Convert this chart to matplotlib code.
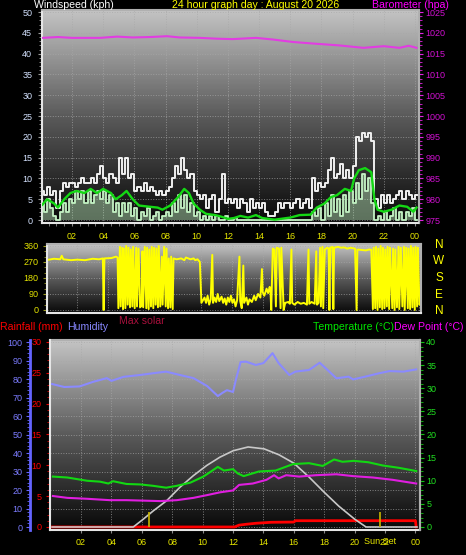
import matplotlib
matplotlib.use("Agg")
import matplotlib.pyplot as plt
import matplotlib.transforms as mtransforms
import numpy as np
from matplotlib.colors import LinearSegmentedColormap
from matplotlib.ticker import MultipleLocator

plt.rcParams["font.family"] = ["Liberation Sans Narrow", "Liberation Sans", "DejaVu Sans"]

W, H = 466, 555

# ---- wind (kph), sampled every 0.2 h starting 00:06 ----
wind_t = np.arange(121) * 0.2 + 0.1
gust = [
    7, 6, 8, 6, 7, 3, 7, 9, 8, 9,
    9, 8, 9, 10, 9, 9, 10, 9, 11, 13,
    10, 9, 11, 10, 9, 15, 11, 15, 10, 11,
    7, 8, 7, 9, 7, 8, 7, 6, 7, 6,
    7, 8, 10, 13, 11, 15, 12, 10, 11, 7,
    6, 5, 6, 3, 5, 6, 2, 5, 11, 4,
    5, 4, 5, 3, 5, 4, 2, 5, 3, 4,
    3, 4, 2, 1, 1, 2, 4, 3, 4, 4,
    3, 4, 5, 3, 4, 5, 3, 10, 7, 9,
    8, 9, 12, 15, 10, 11, 13.5, 10, 12, 10,
    13, 20, 19, 21, 20, 21, 19, 5, 3, 6,
    4, 6, 4, 5, 6, 7, 5, 7, 6, 5,
    6]
speed = [
    4, 2, 5, 3, 1, 0, 2, 4, 2, 5,
    4, 7, 5, 7, 4, 7, 4, 6, 7, 5,
    7, 4, 6, 2, 4, 1, 4, 2, 4, 1,
    3, 0, 2, 1, 3, 0, 1, 2, 0, 1,
    2, 1, 4, 2, 6, 3, 6, 2, 4, 1,
    2, 0, 1, 0, 1, 0, 1, 0, 0, 1,
    0, 0, 0.5, 0, 0, 0, 0, 0, 0, 0,
    0, 0, 0, 0, 0, 0, 0, 0, 0, 0,
    0, 0, 0, 0, 0, 0, 0, 2, 1, 3,
    0, 4, 1, 6, 2, 5, 1, 6, 2, 7,
    4, 9, 5, 11, 7, 10, 4, 0, 1, 0,
    2, 0, 1, 3, 0, 2, 0, 2, 1, 3,
    0]
avg_t = [0.1, 0.4, 0.85, 1.1, 1.5, 1.9, 2.3, 2.8, 3.2, 3.6, 4.0, 4.5, 4.8, 5.2, 5.5,
         5.9, 6.3, 7.0, 7.5, 7.8, 8.3, 8.8, 9.2, 9.5, 9.8, 10.2, 10.6, 11.2, 11.6,
         12.0, 12.4, 12.8, 13.3, 13.8, 14.2, 15.0, 16.0, 16.6, 17.3, 17.7, 18.2,
         18.6, 19.0, 19.5, 19.9, 20.1, 20.4, 20.8, 21.2, 21.4, 21.6, 22.0, 22.5,
         23.0, 23.5, 23.9, 24.1]
avg_v = [3.7, 5.0, 4.0, 3.0, 5.0, 6.5, 7.0, 6.5, 7.5, 6.5, 7.5, 6.5, 5.0, 6.0, 7.0,
         5.0, 3.5, 3.2, 3.0, 2.5, 3.5, 5.5, 7.5, 6.5, 4.0, 2.5, 1.5, 1.2, 0.8,
         0.3, 0.5, 1.0, 0.6, 1.2, 0.5, 0.1, 0.6, 1.2, 1.3, 3.0, 4.0,
         5.5, 6.0, 7.5, 7.0, 10.0, 12.0, 12.5, 11.5, 5.0, 2.5, 2.0, 2.5,
         3.5, 3.2, 2.0, 3.0]

# ---- barometer (hPa) ----
baro_t = [0.1, 1.1, 2.0, 3.8, 4.9, 5.9, 7.0, 8.1, 8.9, 10.2, 11.3, 12.3, 13.8, 14.9,
          16.2, 17.6, 19.1, 20.7, 22.0, 23.0, 23.6, 24.1]
baro_v = [1018.8, 1019.0, 1018.8, 1018.8, 1019.1, 1018.9, 1019.0, 1019.2, 1018.9,
          1018.8, 1018.6, 1018.5, 1018.8, 1018.4, 1017.8, 1017.4, 1017.0, 1016.4,
          1016.8, 1016.4, 1016.9, 1016.4]

# ---- wind direction (deg) ----
dir_t = [0.1, 0.5, 0.9, 1.0, 1.1, 1.6, 2.0, 2.5, 3.0, 3.4, 3.65, 3.7, 3.75, 4.2, 4.5, 4.6,
         4.65, 4.75, 4.8, 4.9, 4.95, 5.0, 5.1, 5.15, 5.25, 5.3, 5.4, 5.45, 5.55, 5.6,
         5.7, 5.8, 5.85, 5.95,
         6.05, 6.15, 6.2, 6.25, 6.35, 6.45, 6.5, 6.6, 6.65, 6.75, 6.8, 6.9, 6.95, 7.05,
         7.1, 7.2, 7.25,
         7.35, 7.45, 7.5, 7.6, 7.7, 7.75, 7.85, 7.9, 8.0, 8.05, 8.15, 8.2,
         8.4, 8.7, 8.9, 9.0, 9.3, 9.5, 9.6, 9.75, 9.9,
         10.0, 10.2, 10.3, 10.4, 10.5, 10.6, 10.7, 10.75, 10.85, 10.95, 11.05, 11.15,
         11.3, 11.4, 11.5, 11.6, 11.7, 11.8, 11.9, 12.0, 12.1, 12.2, 12.3, 12.45, 12.5,
         12.6, 12.7, 12.75, 12.9, 13.0, 13.1, 13.25, 13.4, 13.5, 13.65, 13.8, 13.9,
         13.95, 14.05, 14.2, 14.3, 14.4, 14.45,
         14.5, 14.6, 14.7, 14.8, 14.85, 15.0, 15.1, 15.15, 15.3, 15.4,
         15.6, 15.7, 15.8, 15.85, 16.0, 16.2, 16.4, 16.6, 16.8, 16.9, 16.95, 17.1, 17.3,
         17.4, 17.45, 17.55,
         17.65, 17.7, 17.8, 17.85, 17.95, 18.1, 18.2, 18.25, 18.3, 18.45, 18.5, 18.55,
         18.8, 19.0, 19.2, 19.4, 19.6, 19.9, 20.0, 20.05, 20.3, 20.6, 20.8, 20.95,
         21.05, 21.1, 21.2, 21.25, 21.35, 21.4, 21.5, 21.55, 21.65, 21.7, 21.8, 21.85,
         21.95, 22.0, 22.1, 22.15, 22.3, 22.35, 22.45, 22.5, 22.6, 22.7, 22.75, 22.85,
         22.95, 23.05, 23.1, 23.2, 23.3, 23.35, 23.45, 23.5, 23.6, 23.65, 23.75, 23.8,
         23.9, 23.95, 24.05, 24.1]
dir_v = [282, 288, 285, 305, 285, 280, 283, 280, 288, 285, 290, 0, 290, 292, 300, 295,
         10, 355, 20, 350, 5, 345, 10, 360, 30, 350, 15, 340, 20, 355,
         10, 350, 20, 345,
         15, 25, 330, 15, 355, 10, 350, 5, 340, 20, 355, 10, 350, 30,
         345, 15, 360,
         20, 300, 30, 355, 20, 345, 10, 290, 15, 300, 5, 290,
         285, 290, 280, 295, 285, 290, 280, 285, 270,
         40, 70, 40, 80, 30, 60, 310, 40, 70, 45, 90, 50,
         75, 40, 65, 30, 70, 45, 80, 40, 60, 20, 55, 300, 50,
         10, 250, 40, 70, 30, 60, 45, 80, 55, 90, 70, 230,
         100, 80, 120, 95, 130, 110,
         0, 345, 340, 20, 350, 345, 10, 350, 0, 40,
         45, 35, 340, 40, 30, 45, 35, 40, 30, 340, 35, 45, 35,
         330, 30, 40,
         350, 20, 355, 10, 340, 350, 345, 0, 350, 355, 5, 350,
         355, 350, 352, 345, 350, 345, 0, 340, 338, 335, 340, 338,
         5, 350, 10, 355, 0, 345, 15, 360, 5, 350, 10, 340,
         20, 355, 5, 350, 10, 345, 0, 340, 15, 355, 5, 350,
         20, 355, 0, 350, 10, 345, 5, 360, 15, 350, 0, 355,
         20, 350, 30, 40]

# ---- bottom panel ----
hum_t = [0.1, 0.9, 1.9, 2.8, 3.7, 4.0, 4.8, 5.9, 6.8, 7.6, 8.5, 9.4, 10.3, 11.0, 11.3,
         11.6, 12.0, 12.2, 12.5, 12.85, 13.5, 14.0, 14.6, 15.0, 15.7, 16.1, 17.0, 17.7,
         18.1, 18.8, 19.6, 19.9, 20.7, 21.6, 22.3, 23.2, 24.05]
hum_v = [77.3, 75.7, 76.0, 78.5, 80.5, 79.0, 81.2, 82.2, 83.2, 84.0, 82.2, 80.5, 76.2,
         70.8, 72.5, 74.0, 73.0, 80.0, 89.2, 89.4, 87.6, 88.6, 94.0, 88.6, 82.2, 84.0,
         84.9, 88.8, 85.8, 80.4, 81.3, 79.8, 81.3, 83.1, 84.3, 84.0, 85.2]
temp_t = [0.15, 1.1, 2.4, 3.25, 3.8, 4.1, 5.0, 5.9, 6.75, 7.6, 8.3, 9.2, 10.05, 11.0,
          11.4, 12.0, 12.3, 12.7, 13.7, 14.8, 15.95, 17.0, 17.9, 18.65, 19.2, 19.95,
          20.9, 21.85, 22.9, 24.05]
temp_v = [10.9, 10.7, 10.0, 9.8, 9.4, 9.9, 9.3, 9.2, 8.9, 8.5, 8.9, 9.6, 10.9, 13.0,
          12.2, 12.5, 11.6, 11.0, 12.0, 12.2, 13.6, 13.8, 13.2, 14.6, 14.1, 14.3,
          14.0, 13.3, 12.8, 12.1]
dew_t = [0.15, 1.1, 2.4, 3.9, 5.0, 6.1, 7.2, 8.3, 9.4, 10.3, 11.15, 12.0, 12.4, 13.3,
         14.2, 14.7, 15.0, 15.5, 16.35, 17.45, 18.8, 19.9, 21.2, 22.5, 24.05]
dew_v = [6.7, 6.3, 6.1, 5.8, 5.8, 5.7, 5.6, 5.8, 6.3, 6.9, 7.5, 7.9, 9.1, 9.4,
         10.2, 11.2, 10.5, 11.2, 10.9, 11.2, 11.4, 11.0, 10.7, 10.2, 9.4]
solar_t = [0.1, 5.44, 6.1, 6.76, 7.64, 8.51, 9.39, 10.27, 11.14, 12.02, 12.99, 14.04,
           15.03, 16.0, 17.0, 17.97, 18.96, 20.0, 20.75, 24.1]
solar_v = [0, 0, 1.7, 3.5, 5.7, 8.6, 11.1, 13.3, 15.1, 16.5, 17.3, 16.9,
           15.6, 13.8, 10.8, 7.6, 4.5, 1.7, 0, 0]
rain_t = [0.1, 12.1, 12.4, 12.9, 13.5, 14.5, 16.0, 16.1, 24.0, 24.05]
rain_v = [0, 0, 0.3, 0.45, 0.6, 0.76, 0.8, 1.02, 1.02, 0]
sunrise, sunset = 6.47, 21.7

hour_ticks = list(range(2, 25, 2))
hour_labels = ["02", "04", "06", "08", "10", "12", "14", "16", "18", "20", "22", "00"]

fig = plt.figure(figsize=(W / 100, H / 100), dpi=100, facecolor="black")
bg = LinearSegmentedColormap.from_list("bg", ["#080808", "#5a5a5a", "#c4c4c4"])
grad = np.linspace(1, 0, 256).reshape(-1, 1)


def panel(l, t, r, b):
    ax = fig.add_axes([l / W, 1 - b / H, (r - l) / W, (b - t) / H])
    ax.set_facecolor("black")
    ax.imshow(grad, cmap=bg, vmin=0, vmax=1, aspect="auto", extent=(0, 1, 0, 1),
              transform=ax.transAxes, zorder=0, interpolation="bilinear")
    for side, sp in ax.spines.items():
        sp.set_color("#e6e6e6" if side in ("left", "bottom") else "#b0b0b0")
        sp.set_linewidth(1.5)
    ax.grid(True, color="#a8a8a8", ls=":", lw=0.7, alpha=0.7)
    return ax


def hide_spines(ax, keep=()):
    for side, sp in ax.spines.items():
        sp.set_visible(side in keep)


def label(x, y, s, color, size=7.6, ha="left"):
    fig.text(x / W, 1 - y / H, s, color=color, fontsize=size, ha=ha, va="baseline",
             family="Liberation Sans")


# ---------------- top panel: wind + barometer ----------------
ax1 = panel(42, 10, 419, 223)
ax1.plot(wind_t, gust, drawstyle="steps-mid", color="#f0f0f0", lw=1.4, zorder=2)
ax1.fill_between(wind_t, 0, speed, step="mid", color="#c4f2c4", alpha=0.45, lw=0, zorder=3)
ax1.plot(wind_t, speed, drawstyle="steps-mid", color="#c4f2c4", lw=1.3, zorder=3)
ax1.plot(avg_t, avg_v, color="#14d814", lw=1.7, zorder=4)
ax1.set_xlim(0.077, 24.26)
ax1.set_ylim(-0.7, 50.5)
ax1.set_yticks(range(0, 51, 5))
ax1.yaxis.set_minor_locator(MultipleLocator(1))
ax1.set_xticks(hour_ticks)
ax1.set_xticklabels(hour_labels)
ax1.xaxis.set_minor_locator(MultipleLocator(0.5))
ax1.tick_params(axis="y", which="both", colors="#9a9a9a", labelcolor="#d4e2ff",
                labelsize=6.5, length=3, pad=4)
ax1.tick_params(axis="y", which="minor", length=2)
ax1.tick_params(axis="x", which="both", colors="#8a8a8a", labelcolor="#e8e800",
                labelsize=6.5, length=2, pad=4.5)

ax1b = ax1.twinx()
ax1b.plot(baro_t, baro_v, color="#e23ce2", lw=1.5)
ax1b.set_ylim(974.3, 1025.5)
ax1b.set_yticks(range(975, 1026, 5))
ax1b.yaxis.set_minor_locator(MultipleLocator(1))
ax1b.tick_params(axis="y", which="both", colors="#e020e0", labelcolor="#d010d0",
                 labelsize=6.5, length=3, pad=1.5)
ax1b.tick_params(axis="y", which="minor", length=2)
hide_spines(ax1b, keep=("right",))
ax1b.spines["right"].set_color("#b0b0b0")

label(34, 8.5, "Windspeed (kph)", "white")
label(172, 8.5, "24 hour graph day : August 20 2026", "#ffff00")
label(372, 8.5, "Barometer (hpa)", "#ff00ff")

# ---------------- direction panel ----------------
ax2 = panel(47, 244, 421, 313)
ax2.plot(dir_t, dir_v, color="#ffff00", lw=1.4, zorder=2)
ax2.set_xlim(0.05, 24.15)
ax2.set_ylim(-17, 371)
ax2.set_yticks([0, 90, 180, 270, 360])
ax2.yaxis.set_minor_locator(MultipleLocator(30))
ax2.set_xticks(hour_ticks)
ax2.tick_params(axis="x", length=0, labelbottom=False)
ax2.tick_params(axis="y", which="both", colors="#9a9a20", labelcolor="#e4e400",
                labelsize=6.5, length=3, pad=3)
ax2.tick_params(axis="y", which="minor", length=2)
for y, s in zip([248, 264, 281, 298, 314], ["N", "W", "S", "E", "N"]):
    label(439, y, s, "#ffff00", size=8.5, ha="center")

# ---------------- bottom panel ----------------
ax3 = panel(50, 340, 420, 530)
ax3.plot(hum_t, hum_v, color="#8a8aff", lw=1.5, zorder=3)
ax3.set_xlim(-0.04, 24.3)
ax3.set_ylim(-1.6, 101.1)
ax3.set_yticks(range(0, 101, 10))
ax3.yaxis.set_minor_locator(MultipleLocator(2))
ax3.spines["left"].set_position(("axes", -20 / 370))
ax3.spines["left"].set_color("#6464ff")
ax3.spines["left"].set_linewidth(2)
ax3.tick_params(axis="y", which="both", colors="#6464ff", labelcolor="#7c7cff",
                labelsize=6.5, length=3, pad=2.5)
ax3.tick_params(axis="y", which="minor", length=2)
ax3.set_xticks(hour_ticks)
ax3.set_xticklabels(hour_labels)
ax3.tick_params(axis="x", colors="#8a8a8a", labelcolor="#e8e800", labelsize=6.5,
                length=2, pad=4)

ax_r = ax3.twinx()
ax_r.yaxis.tick_left()
ax_r.plot(rain_t, rain_v, color="#ff0000", lw=2.0)
ax_r.set_ylim(-0.49, 30.32)
ax_r.set_yticks(range(0, 31, 5))
ax_r.yaxis.set_minor_locator(MultipleLocator(1))
ax_r.tick_params(axis="y", which="both", colors="#e00000", labelcolor="#ff0000",
                 labelsize=6.5, length=3, pad=3)
ax_r.tick_params(axis="y", which="minor", length=2)
hide_spines(ax_r, keep=("left",))
ax_r.spines["left"].set_color("#e6e6e6")
ax_r.spines["left"].set_linewidth(1.5)

ax_t = ax3.twinx()
ax_t.plot(solar_t, solar_v, color="#c8c8c8", lw=1.2, zorder=2)
ax_t.plot(temp_t, temp_v, color="#12d812", lw=1.5, zorder=3)
ax_t.plot(dew_t, dew_v, color="#e01ee0", lw=1.5, zorder=3)
ax_t.vlines([sunrise, sunset], 0, 3.3, color="#c8b400", lw=1.2, zorder=4)
ax_t.set_ylim(-0.65, 40.43)
ax_t.set_yticks(range(0, 41, 5))
ax_t.yaxis.set_minor_locator(MultipleLocator(1))
ax_t.tick_params(axis="y", which="both", colors="#10c010", labelcolor="#20e020",
                 labelsize=6.5, length=3, pad=1.5)
ax_t.tick_params(axis="y", which="minor", length=2)
hide_spines(ax_t, keep=("right",))
ax_t.spines["right"].set_color("#b0b0b0")
ax_t.spines["right"].set_linewidth(1.5)

# the reference draws "Sun Set" right over the "22" tick label
trans = mtransforms.blended_transform_factory(ax3.transData, ax3.transAxes)
ax3.text(sunset, -12 / 190, "Sun Set", transform=trans, color="#e8e800",
         fontsize=6.5, ha="center", va="center", clip_on=False)

label(0, 330, "Rainfall (mm)", "#ff0000")
label(67, 330, "Humidity", "#8888ff")
label(119, 323.5, "Max solar", "#a8103c")
label(313, 330, "Temperature (°C)", "#00e600")
label(394, 330, "Dew Point (°C)", "#ff00ff")

fig.savefig("out.png", dpi=100, facecolor="black")
